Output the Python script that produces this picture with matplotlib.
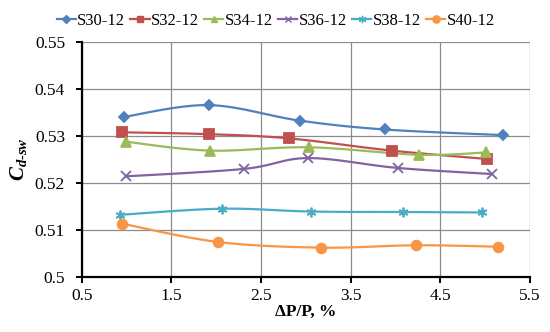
import numpy as np
import matplotlib
matplotlib.use("Agg")
import matplotlib.pyplot as plt

plt.rcParams['font.family'] = ['Liberation Serif', 'DejaVu Serif']
plt.rcParams['mathtext.fontset'] = 'custom'
plt.rcParams['mathtext.rm'] = 'Liberation Serif'
plt.rcParams['mathtext.it'] = 'Liberation Serif:italic'
plt.rcParams['mathtext.bf'] = 'Liberation Serif:bold'
plt.rcParams['mathtext.bfit'] = 'Liberation Serif:italic:bold'

# values
s30_x = [0.975, 1.92, 2.93, 3.88, 5.2]
s30_y = [0.5341, 0.5366, 0.5333, 0.5314, 0.5302]
s32_x = [0.953, 1.923, 2.815, 3.956, 5.026]
s32_y = [0.5308, 0.5304, 0.5295, 0.5269, 0.5251]
s34_x = [0.99, 1.93, 3.038, 4.264, 5.007]
s34_y = [0.5288, 0.5269, 0.5276, 0.526, 0.5265]
s36_x = [0.994, 2.313, 3.026, 4.023, 5.074]
s36_y = [0.5214, 0.523, 0.5253, 0.5232, 0.5219]
s38_x = [0.927, 2.061, 3.053, 4.079, 4.97]
s38_y = [0.5132, 0.5145, 0.5139, 0.5138, 0.5137]
s40_x = [0.953, 2.023, 3.175, 4.227, 5.141]
s40_y = [0.5113, 0.5074, 0.5062, 0.5067, 0.5064]

labels = ['S30-12', 'S32-12', 'S34-12', 'S36-12', 'S38-12', 'S40-12']
colors = ['#4F81BD', '#C0504D', '#9BBB59', '#8064A2', '#4BACC6', '#F79646']
markers = ['D', 's', '^', 'x', (6, 2, 0), 'o']
msizes = [5, 6.5, 6.5, 6.5, 7, 7]


def smooth(x, y, n=30):
    # catmull-rom like Excel "smoothed line"
    x = np.asarray(x, float)
    y = np.asarray(y, float)
    px = np.concatenate([[x[0]], x, [x[-1]]])
    py = np.concatenate([[y[0]], y, [y[-1]]])
    xs, ys = [], []
    t = np.linspace(0, 1, n)
    for i in range(1, len(px) - 2):
        p0, p1, p2, p3 = [np.array([px[j], py[j]]) for j in (i - 1, i, i + 1, i + 2)]
        c1 = p1 + (p2 - p0) / 6
        c2 = p2 - (p3 - p1) / 6
        b = ((1 - t) ** 3)[:, None] * p1 + (3 * (1 - t) ** 2 * t)[:, None] * c1 \
            + (3 * (1 - t) * t ** 2)[:, None] * c2 + (t ** 3)[:, None] * p2
        xs.extend(b[:, 0])
        ys.extend(b[:, 1])
    return xs, ys


fig = plt.figure(figsize=(5.5, 3.32), dpi=100)
ax = fig.add_axes([0.1485, 0.1666, 0.815, 0.706])

series = [(s30_x, s30_y), (s32_x, s32_y), (s34_x, s34_y),
          (s36_x, s36_y), (s38_x, s38_y), (s40_x, s40_y)]
for (x, y), lab, c, m, ms in zip(series, labels, colors, markers, msizes):
    sx, sy = smooth(x, y)
    ax.plot(sx, sy, color=c, lw=1.6, zorder=3)
    ax.plot(x, y, ls='none', marker=m, color=c, ms=ms, mew=1.3, zorder=4)
    ax.plot([], [], color=c, lw=1.6, marker=m, ms=ms * 0.75, mew=1.0, label=lab)

ax.set_xlim(0.5, 5.5)
ax.set_ylim(0.5, 0.55)
ax.set_xticks(np.arange(0.5, 5.6, 1.0))
ax.set_yticks([0.5, 0.51, 0.52, 0.53, 0.54, 0.55])
ax.set_xticklabels(['0.5', '1.5', '2.5', '3.5', '4.5', '5.5'])
ax.set_yticklabels(['0.5', '0.51', '0.52', '0.53', '0.54', '0.55'])
ax.grid(True, color='#8c8c8c', lw=0.9)
ax.set_axisbelow(True)
for s in ['top', 'right']:
    ax.spines[s].set_visible(False)
for s in ['left', 'bottom']:
    ax.spines[s].set_linewidth(1.6)
ax.tick_params(direction='out', length=4, width=1.4, labelsize=12.5)
ax.tick_params(axis='y', pad=8)
ax.tick_params(axis='x', pad=4)

ax.set_xlabel('ΔP/P, %', fontsize=12.5, fontweight='bold', labelpad=0)
ax.set_ylabel(r'$\mathbfit{C}_{\mathbfit{d}\text{-}\mathbfit{sw}}$', fontsize=15, labelpad=4)

ax.legend(loc='lower center', bbox_to_anchor=(0.433, 1.03), ncol=6, frameon=False,
          fontsize=12, handlelength=1.15, handletextpad=0.1, columnspacing=0.3,
          borderaxespad=0)

fig.savefig('out.png', dpi=100)
